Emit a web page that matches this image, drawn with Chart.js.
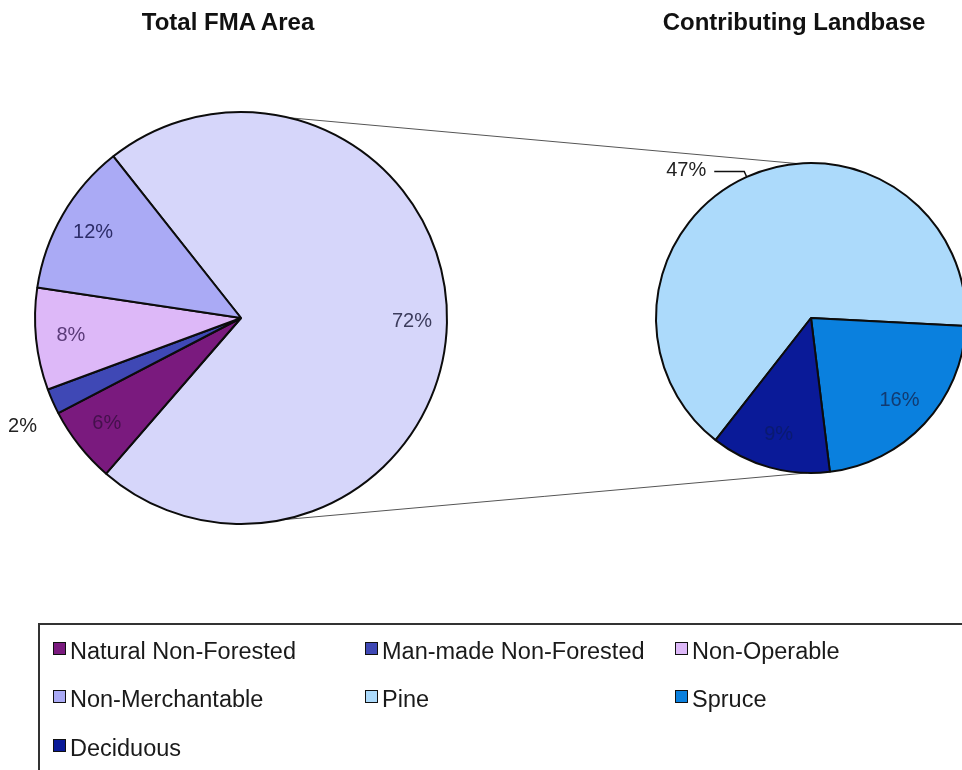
<!DOCTYPE html>
<html>
<head>
<meta charset="utf-8">
<title>FMA Area Breakdown</title>
<script src="https://cdn.jsdelivr.net/npm/chart.js@4.4.1/dist/chart.umd.min.js"></script>
<style>
  html, body { margin: 0; padding: 0; background: #fff; }
  body { position: relative; width: 962px; height: 770px; overflow: hidden;
         font-family: "Liberation Sans", Arial, sans-serif; color: #111; }
  canvas { position: absolute; }
  #links { left: 0; top: 0; z-index: 0; }
  #total-chart { left: 0; top: 60px; z-index: 1; }
  #landbase-chart { left: 640px; top: 140px; z-index: 1; }
  .title { position: absolute; top: 10px; font-weight: bold; font-size: 24px; line-height: 24px;
           transform: translateX(-50%); white-space: nowrap; }
  #legend { position: absolute; left: 38px; top: 623px; width: 960px; height: 170px;
            border: 2px solid #333; box-sizing: border-box; }
  .item { position: absolute; font-size: 23.5px; line-height: 24px; white-space: nowrap; color: #1a1a1a; }
  .item .box { position: absolute; left: 0; top: 3px; width: 11px; height: 11px; border: 1.5px solid #111; }
  .item span.txt { position: absolute; left: 17px; top: 0; }
</style>
</head>
<body>
<canvas id="links" width="962" height="770"></canvas>
<div class="title" style="left:228px">Total FMA Area</div>
<div class="title" style="left:794px">Contributing Landbase</div>
<canvas id="total-chart" width="480" height="520"></canvas>
<canvas id="landbase-chart" width="340" height="360"></canvas>
<div id="legend"></div>

<script>
// whole FMA, % of area (first slice is the contributing landbase split out on the right)
const totalLabels = ['Contributing Landbase', 'Natural Non-Forested', 'Man-made Non-Forested', 'Non-Operable', 'Non-Merchantable'];
const totalValues = [72, 6, 2, 8, 12];
const totalColors = ['#d6d6fa', '#7a1a7e', '#3f48b5', '#ddb8f8', '#aaaaf5'];

// contributing landbase, still as % of the whole FMA
const landbaseLabels = ['Pine', 'Spruce', 'Deciduous'];
const landbaseValues = [47, 16, 9];
const landbaseColors = ['#acdafb', '#0a80de', '#0a1a98'];

const legendOrder = ['Natural Non-Forested', 'Man-made Non-Forested', 'Non-Operable',
                     'Non-Merchantable', 'Pine', 'Spruce', 'Deciduous'];

// percent labels inside slices, a few pushed outside
const sliceLabels = {
  id: 'sliceLabels',
  afterDatasetsDraw(chart, args, opts) {
    const ctx = chart.ctx;
    const meta = chart.getDatasetMeta(0);
    const values = chart.data.datasets[0].data;
    ctx.save();
    ctx.font = '20px "Liberation Sans", Arial, sans-serif';
    ctx.textBaseline = 'middle';
    meta.data.forEach((arc, i) => {
      const p = arc.getProps(['x', 'y', 'startAngle', 'endAngle', 'outerRadius'], true);
      const mid = (p.startAngle + p.endAngle) / 2;
      const dx = Math.cos(mid), dy = Math.sin(mid);
      const text = values[i] + '%';
      const mode = (opts.outside || {})[i];
      ctx.fillStyle = opts.colors[i];
      if (mode === 'plain') {
        const r = p.outerRadius * 1.16;
        ctx.textAlign = 'center';
        ctx.fillText(text, p.x + dx * r, p.y + dy * r + 12);
      } else if (mode === 'leader') {
        const ex = p.x + dx * (p.outerRadius + 6), ey = p.y + dy * (p.outerRadius + 6);
        const side = dx < 0 ? -1 : 1;
        ctx.strokeStyle = '#111';
        ctx.lineWidth = 1.5;
        ctx.beginPath();
        ctx.moveTo(p.x + dx * p.outerRadius, p.y + dy * p.outerRadius);
        ctx.lineTo(ex, ey);
        ctx.lineTo(ex + side * 30, ey);
        ctx.stroke();
        ctx.textAlign = side < 0 ? 'right' : 'left';
        ctx.fillText(text, ex + side * 38, ey - 1);
      } else {
        const r = p.outerRadius * opts.radius;
        ctx.textAlign = 'center';
        ctx.fillText(text, p.x + dx * r, p.y + dy * r);
      }
    });
    ctx.restore();
  }
};

function pieConfig(labels, values, colors, radius, rotation, padding, labelOpts) {
  return {
    type: 'pie',
    data: {
      labels: labels,
      datasets: [{
        data: values,
        backgroundColor: colors,
        borderColor: '#0c0c0c',
        borderWidth: 2,
        radius: radius
      }]
    },
    options: {
      responsive: false,
      animation: false,
      events: [],
      rotation: rotation,
      layout: { padding: padding },
      plugins: {
        legend: { display: false },
        tooltip: { enabled: false },
        sliceLabels: labelOpts
      }
    },
    plugins: [sliceLabels]
  };
}

const totalChart = new Chart(document.getElementById('total-chart'),
  pieConfig(totalLabels, totalValues, totalColors, 206, -38.3,
    { left: 35, right: 33, top: 52, bottom: 56 },
    { radius: 0.83, outside: { 2: 'plain' },
      colors: ['#3c3c5c', '#44104c', '#222', '#5a3a78', '#2c2c68'] }));

const landbaseChart = new Chart(document.getElementById('landbase-chart'),
  pieConfig(landbaseLabels, landbaseValues, landbaseColors, 155, 218,
    { left: 16, right: 14, top: 23, bottom: 27 },
    { radius: 0.78, outside: { 0: 'leader' },
      colors: ['#222', '#123a70', '#0a1a70'] }));

// lines joining the two pies
function drawLinks() {
  const ctx = document.getElementById('links').getContext('2d');
  const pt = (chart, deg) => {
    const arc = chart.getDatasetMeta(0).data[0];
    const c = chart.canvas;
    const a = (deg - 90) * Math.PI / 180;
    return [c.offsetLeft + arc.x + Math.cos(a) * arc.outerRadius,
            c.offsetTop + arc.y + Math.sin(a) * arc.outerRadius];
  };
  ctx.strokeStyle = '#555';
  ctx.lineWidth = 1;
  [[13.6, -5], [168.3, 181.5]].forEach(([a, b]) => {
    const p = pt(totalChart, a), q = pt(landbaseChart, b);
    ctx.beginPath();
    ctx.moveTo(p[0], p[1]);
    ctx.lineTo(q[0], q[1]);
    ctx.stroke();
  });
}
drawLinks();

// legend grid
function buildLegend() {
  const el = document.getElementById('legend');
  const colorOf = {};
  totalLabels.forEach((l, i) => colorOf[l] = totalColors[i]);
  landbaseLabels.forEach((l, i) => colorOf[l] = landbaseColors[i]);
  const cols = [13, 325, 635], rows = [14, 62, 111];
  legendOrder.forEach((name, i) => {
    const item = document.createElement('div');
    item.className = 'item';
    item.style.left = cols[i % 3] + 'px';
    item.style.top = rows[Math.floor(i / 3)] + 'px';
    item.innerHTML = `<div class="box" style="background:${colorOf[name]}"></div><span class="txt">${name}</span>`;
    el.appendChild(item);
  });
}
buildLegend();
</script>
</body>
</html>
